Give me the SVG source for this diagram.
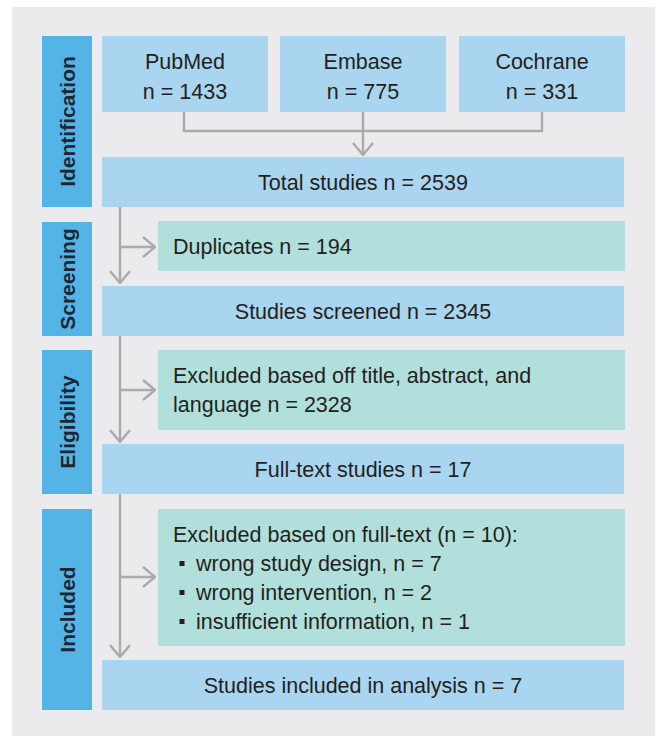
<svg xmlns="http://www.w3.org/2000/svg" width="657" height="736" viewBox="0 0 657 736">
  <style>
    .panel { fill: #ebebed; }
    .box { fill: #a9d5f0; }
    .exc { fill: #b1dfdb; }
    .bar { fill: #55b4e6; }
    text { font-family: "Liberation Sans", Arial, sans-serif; font-size: 21.5px; fill: #231f20; }
    .c { text-anchor: middle; }
    .lbl { font-size: 21px; font-weight: bold; text-anchor: middle; fill: #1d2733; }
    .ln { fill: none; stroke: #aaaaaa; stroke-width: 2.4; }
    .bul { fill: #231f20; }
  </style>
  <defs>
    <marker id="ah" viewBox="0 0 14 22" refX="13" refY="11" markerWidth="14" markerHeight="22" markerUnits="userSpaceOnUse" orient="auto">
      <path d="M1,1 L13,11 L1,21" fill="none" stroke="#aaaaaa" stroke-width="2.4"/>
    </marker>
  </defs>

  <rect class="panel" x="12" y="7" width="643" height="740"/>

  <g id="stage-identification">
    <rect class="bar" x="42" y="36" width="50" height="171"/>
    <text class="lbl" transform="translate(75,121.5) rotate(-90)">Identification</text>
  </g>
  <g id="stage-screening">
    <rect class="bar" x="42" y="222" width="50" height="114"/>
    <text class="lbl" transform="translate(75,279) rotate(-90)">Screening</text>
  </g>
  <g id="stage-eligibility">
    <rect class="bar" x="42" y="350" width="50" height="144"/>
    <text class="lbl" transform="translate(75,422) rotate(-90)">Eligibility</text>
  </g>
  <g id="stage-included">
    <rect class="bar" x="42" y="509" width="50" height="201"/>
    <text class="lbl" transform="translate(75,609.5) rotate(-90)">Included</text>
  </g>

  <g id="pubmed">
    <rect class="box" x="102" y="36" width="166" height="76"/>
    <text class="c" x="185" y="69">PubMed</text>
    <text class="c" x="185" y="99">n = 1433</text>
  </g>
  <g id="embase">
    <rect class="box" x="280" y="36" width="166" height="76"/>
    <text class="c" x="363" y="69">Embase</text>
    <text class="c" x="363" y="99">n = 775</text>
  </g>
  <g id="cochrane">
    <rect class="box" x="459" y="36" width="166" height="76"/>
    <text class="c" x="542" y="69">Cochrane</text>
    <text class="c" x="542" y="99">n = 331</text>
  </g>
  <g id="total">
    <rect class="box" x="102" y="157" width="522" height="50"/>
    <text class="c" x="363" y="190">Total studies n = 2539</text>
  </g>
  <g id="duplicates">
    <rect class="exc" x="158" y="221" width="467" height="50"/>
    <text x="173" y="254">Duplicates n = 194</text>
  </g>
  <g id="screened">
    <rect class="box" x="102" y="286" width="522" height="50"/>
    <text class="c" x="363" y="319">Studies screened n = 2345</text>
  </g>
  <g id="excluded-title">
    <rect class="exc" x="158" y="350" width="467" height="80"/>
    <text x="173" y="383">Excluded based off title, abstract, and</text>
    <text x="173" y="412">language n = 2328</text>
  </g>
  <g id="fulltext">
    <rect class="box" x="102" y="444" width="522" height="50"/>
    <text class="c" x="363" y="477">Full-text studies n = 17</text>
  </g>
  <g id="excluded-fulltext">
    <rect class="exc" x="158" y="509" width="467" height="137"/>
    <text x="173" y="542">Excluded based on full-text (n = 10):</text>
    <rect class="bul" x="179.5" y="561" width="5" height="5"/>
    <text x="196" y="571">wrong study design, n = 7</text>
    <rect class="bul" x="179.5" y="590" width="5" height="5"/>
    <text x="196" y="600">wrong intervention, n = 2</text>
    <rect class="bul" x="179.5" y="619" width="5" height="5"/>
    <text x="196" y="629">insufficient information, n = 1</text>
  </g>
  <g id="included">
    <rect class="box" x="102" y="660" width="522" height="50"/>
    <text class="c" x="363" y="693">Studies included in analysis n = 7</text>
  </g>

  <g id="connectors">
    <path class="ln" d="M184,112 V131 H542 V112"/>
    <path class="ln" d="M363,112 V155" marker-end="url(#ah)"/>
    <path class="ln" d="M120,207 V283" marker-end="url(#ah)"/>
    <path class="ln" d="M120,247 H155" marker-end="url(#ah)"/>
    <path class="ln" d="M120,336 V442" marker-end="url(#ah)"/>
    <path class="ln" d="M120,390 H155" marker-end="url(#ah)"/>
    <path class="ln" d="M120,494 V657" marker-end="url(#ah)"/>
    <path class="ln" d="M120,577 H155" marker-end="url(#ah)"/>
  </g>
</svg>
